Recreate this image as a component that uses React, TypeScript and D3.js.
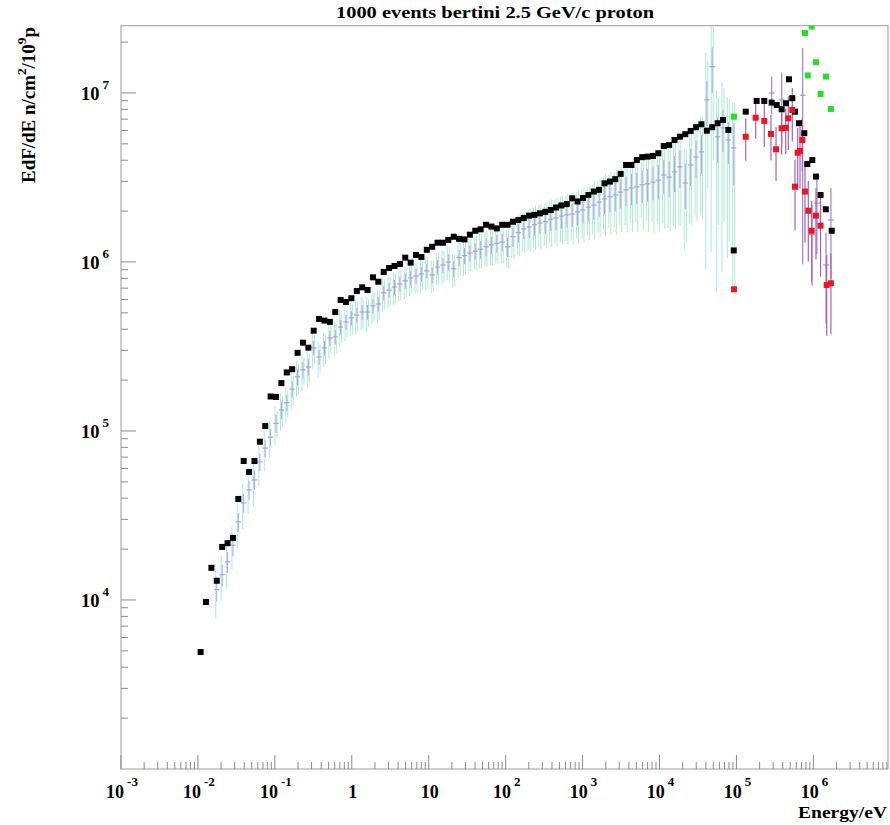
import React from 'react';
import * as d3 from 'd3';

// ---- histogram binning (main run: 100 log-uniform bins from 1e-2 to 1e5 eV)
const HIST_MIN = 1e-2;
const HIST_MAX = 1e5;
const HIST_NBINS = 100;

// ---- black squares (main histogram)
const blackFlux = [
  4.92e3, 9.73e3, 1.55e4, 1.30e4, 2.06e4, 2.17e4, 2.33e4, 3.96e4, 6.64e4, 5.72e4,
  6.64e4, 8.64e4, 1.07e5, 1.60e5, 1.59e5, 1.92e5, 2.22e5, 2.32e5, 2.90e5, 3.33e5,
  3.11e5, 3.92e5, 4.60e5, 4.50e5, 4.42e5, 5.06e5, 5.96e5, 5.80e5, 6.10e5, 6.73e5,
  7.08e5, 6.83e5, 8.11e5, 7.64e5, 8.73e5, 9.21e5, 9.47e5, 9.73e5, 1.06e6, 9.91e5,
  1.10e6, 1.07e6, 1.18e6, 1.23e6, 1.30e6, 1.30e6, 1.35e6, 1.41e6, 1.37e6, 1.36e6,
  1.45e6, 1.53e6, 1.56e6, 1.66e6, 1.62e6, 1.58e6, 1.66e6, 1.66e6, 1.73e6, 1.77e6,
  1.82e6, 1.88e6, 1.90e6, 1.94e6, 1.98e6, 2.03e6, 2.10e6, 2.16e6, 2.20e6, 2.38e6,
  2.28e6, 2.39e6, 2.49e6, 2.61e6, 2.67e6, 2.92e6, 2.99e6, 3.09e6, 3.32e6, 3.75e6,
  3.75e6, 4.01e6, 4.17e6, 4.20e6, 4.24e6, 4.40e6, 4.85e6, 4.92e6, 5.27e6, 5.51e6,
  5.70e6, 5.96e6, 6.27e6, 6.53e6, 5.98e6, 6.27e6, 6.62e6, 6.92e6, 6.04e6, 1.17e6,
];

// ---- purple crosses (histogram drawn with errors)
const purpleFlux = [
  null, null, null, 1.15e4, 1.41e4, 1.68e4, 2.11e4, 2.90e4, 3.75e4, 4.48e4,
  5.13e4, 6.56e4, 7.92e4, 9.20e4, 1.11e5, 1.33e5, 1.47e5, 1.77e5, 2.09e5, 2.30e5,
  2.39e5, 3.10e5, 2.74e5, 3.10e5, 3.55e5, 3.60e5, 4.12e5, 4.42e5, 4.67e5, 4.85e5,
  5.06e5, 5.06e5, 5.50e5, 5.64e5, 6.56e5, 6.82e5, 7.11e5, 7.41e5, 7.73e5, 8.04e5,
  8.26e5, 8.49e5, 8.85e5, 8.38e5, 9.33e5, 9.59e5, 1.00e6, 9.10e5, 1.06e6, 1.09e6,
  1.13e6, 1.16e6, 1.19e6, 1.23e6, 1.26e6, 1.29e6, 1.31e6, 1.23e6, 1.41e6, 1.49e6,
  1.57e6, 1.61e6, 1.66e6, 1.70e6, 1.73e6, 1.79e6, 1.82e6, 1.87e6, 1.90e6, 1.92e6,
  1.98e6, 2.03e6, 2.11e6, 2.17e6, 2.26e6, 2.36e6, 2.43e6, 2.49e6, 2.59e6, 2.67e6,
  2.74e6, 2.78e6, 2.86e6, 2.90e6, 2.97e6, 3.05e6, 3.27e6, 3.18e6, 3.41e6, 3.65e6,
  2.93e6, 3.75e6, 4.18e6, 4.48e6, 9.10e6, 1.43e7, 5.50e6, 6.21e6, 5.27e6, 4.73e6,
];
const purpleRelErr = [
  null, null, null, 0.15, 0.15, 0.14, 0.14, 0.13, 0.13, 0.13,
  0.13, 0.12, 0.12, 0.12, 0.12, 0.12, 0.11, 0.11, 0.11, 0.11,
  0.11, 0.10, 0.10, 0.10, 0.10, 0.10, 0.10, 0.10, 0.10, 0.10,
  0.10, 0.10, 0.10, 0.10, 0.10, 0.10, 0.10, 0.10, 0.10, 0.10,
  0.10, 0.10, 0.10, 0.11, 0.10, 0.10, 0.11, 0.11, 0.11, 0.11,
  0.11, 0.11, 0.12, 0.12, 0.12, 0.12, 0.12, 0.13, 0.13, 0.13,
  0.13, 0.14, 0.14, 0.14, 0.15, 0.15, 0.15, 0.16, 0.16, 0.16,
  0.17, 0.17, 0.18, 0.18, 0.18, 0.19, 0.19, 0.20, 0.20, 0.20,
  0.21, 0.21, 0.22, 0.22, 0.22, 0.23, 0.23, 0.24, 0.24, 0.25,
  0.30, 0.25, 0.25, 0.26, 0.30, 0.30, 0.30, 0.28, 0.28, 0.40,
];

// ---- cyan and green runs (error bars around the same bin contents)
const cyanRelErr = [
  null, null, null, 0.32, 0.30, 0.30, 0.28, 0.30, 0.30, 0.28,
  0.30, 0.28, 0.27, 0.25, 0.26, 0.25, 0.24, 0.25, 0.24, 0.25,
  0.24, 0.25, 0.24, 0.23, 0.24, 0.23, 0.24, 0.23, 0.22, 0.23,
  0.22, 0.23, 0.22, 0.22, 0.23, 0.22, 0.22, 0.21, 0.22, 0.22,
  0.22, 0.22, 0.23, 0.22, 0.22, 0.23, 0.22, 0.23, 0.24, 0.24,
  0.22, 0.22, 0.23, 0.23, 0.24, 0.24, 0.25, 0.25, 0.25, 0.26,
  0.26, 0.27, 0.27, 0.28, 0.28, 0.28, 0.29, 0.30, 0.30, 0.30,
  0.30, 0.32, 0.32, 0.33, 0.34, 0.35, 0.35, 0.36, 0.36, 0.38,
  0.38, 0.38, 0.36, 0.40, 0.42, 0.45, 0.48, 0.50, 0.52, 0.55,
  0.60, 0.55, 0.55, 0.58, 0.90, 0.92, 0.88, 0.86, 0.80, 0.85,
];
const greenRelErr = [
  null, null, null, null, null, null, null, null, null, null,
  null, null, null, null, 0.18, 0.20, 0.18, 0.20, 0.20, 0.19,
  0.20, 0.19, 0.20, 0.20, 0.19, 0.20, 0.20, 0.19, 0.20, 0.20,
  0.20, 0.19, 0.20, 0.20, 0.20, 0.19, 0.20, 0.20, 0.20, 0.20,
  0.20, 0.20, 0.21, 0.20, 0.21, 0.21, 0.22, 0.21, 0.22, 0.22,
  0.22, 0.23, 0.23, 0.24, 0.24, 0.25, 0.25, 0.26, 0.26, 0.27,
  0.28, 0.28, 0.29, 0.30, 0.30, 0.31, 0.32, 0.32, 0.33, 0.34,
  0.35, 0.36, 0.36, 0.38, 0.38, 0.40, 0.40, 0.42, 0.42, 0.44,
  0.45, 0.46, 0.46, 0.48, 0.50, 0.50, 0.52, 0.52, 0.54, 0.55,
  0.55, 0.56, 0.58, 0.60, 0.70, 0.72, 0.70, 0.72, 0.75, 0.85,
];

// ---- high-energy part (> 1e5 eV)
const hiBlackEnergy = [1.32e5, 1.83e5, 2.30e5, 2.87e5, 3.34e5, 3.87e5, 4.41e5, 4.82e5, 5.32e5, 5.77e5, 6.50e5, 7.62e5, 8.34e5, 9.68e5, 1.08e6, 1.24e6, 1.45e6, 1.73e6];
const hiBlackFlux = [7.75e6, 8.97e6, 8.97e6, 8.77e6, 8.49e6, 8.01e6, 8.69e6, 1.205e7, 9.31e6, 7.75e6, 6.62e6, 5.78e6, 3.80e6, 4.01e6, 3.20e6, 2.49e6, 2.05e6, 1.53e6];

const redEnergy = [9.3e4, 1.32e5, 1.78e5, 2.30e5, 2.81e5, 3.27e5, 3.87e5, 4.37e5, 4.72e5, 5.32e5, 5.77e5, 6.25e5, 6.70e5, 7.18e5, 7.78e5, 8.59e5, 9.51e5, 1.08e6, 1.24e6, 1.49e6, 1.69e6];
const redFlux = [6.89e5, 5.51e6, 7.14e6, 6.83e6, 5.72e6, 4.64e6, 6.18e6, 6.22e6, 7.08e6, 7.93e6, 2.79e6, 4.43e6, 4.54e6, 5.27e6, 2.61e6, 2.01e6, 1.53e6, 1.88e6, 1.64e6, 7.31e5, 7.48e5];
const redRelErr = [0, 0.28, 0.25, 0.30, 0.30, 0.35, 0.30, 0.30, 0.35, 0.35, 0.45, 0.40, 0.40, 0.35, 0.50, 0.50, 0.50, 0.45, 0.50, 0.50, 0.50];

const greenSqEnergy = [9.3e4, 7.78e5, 9.51e5, 1.08e6, 8.44e5, 1.46e6, 1.24e6, 1.69e6];
const greenSqFlux = [7.24e6, 2.26e7, 2.47e7, 1.52e7, 1.27e7, 1.25e7, 9.86e6, 8.04e6];

const purpleHiEnergy = [2.87e5, 3.87e5, 7.26e5, 9.6e5, 1.11e6, 1.46e6, 1.69e6];
const purpleHiFlux = [1.00e7, 9.1e6, 9.7e6, 1.45e6, 2.23e6, 9.6e5, 1.77e6];
const purpleHiRelErr = [0.25, 0.45, 0.9, 0.5, 0.5, 0.55, 0.55];

// ---- axes
const xLabelExps = [-3, -2, -1, 0, 1, 2, 3, 4, 5, 6];
const yLabelExps = [4, 5, 6, 7];
const TITLE = '1000 events bertini 2.5 GeV/c proton';
const X_TITLE = 'Energy/eV';

const W = 890, H = 825;
const L = 121, R = 888, T = 25.7, B = 769;
const FONT = "'Liberation Serif', 'DejaVu Serif', 'Times New Roman', serif";

export default function App() {
  const x = d3.scaleLog().domain([1e-3, Math.pow(10, 6.97)]).range([L, R]);
  const y = d3.scaleLog().domain([1e3, 2.5e7]).range([B, T]);

  const lmin = Math.log10(HIST_MIN);
  const step = (Math.log10(HIST_MAX) - lmin) / HIST_NBINS;
  const center = (i: number) => Math.pow(10, lmin + (i + 0.5) * step);
  const edgeLo = (i: number) => Math.pow(10, lmin + i * step);
  const edgeHi = (i: number) => Math.pow(10, lmin + (i + 1) * step);

  const yc = (v: number) => (v <= 1e3 ? B : y(v));

  const xMinor: number[] = [];
  for (let e = -3; e <= 6; e++) for (let m = 2; m <= 9; m++) {
    const v = m * Math.pow(10, e);
    if (x(v) <= R) xMinor.push(v);
  }
  const yMinor: number[] = [];
  for (let e = 3; e <= 7; e++) for (let m = 2; m <= 9; m++) {
    const v = m * Math.pow(10, e);
    if (v <= 2.5e7) yMinor.push(v);
  }

  const sq = 6;
  const errBar = (key: string, cx: number, v: number, rel: number, color: string, w = 1) => (
    <line key={key} x1={cx} x2={cx} y1={yc(v * (1 + rel))} y2={yc(v * (1 - rel))} stroke={color} strokeWidth={w} />
  );

  return (
    <svg width={W} height={H} style={{ position: 'absolute', left: 0, top: 0, background: '#fff' }}>
      <defs>
        <clipPath id="plot"><rect x={L} y={T} width={R - L} height={B - T} /></clipPath>
      </defs>
      <rect x={0} y={0} width={W} height={H} fill="#fff" />

      <text x={495} y={18} textAnchor="middle" fontFamily={FONT} fontWeight="bold" fontSize={16.5}
        textLength={318} lengthAdjust="spacingAndGlyphs">{TITLE}</text>

      <rect x={L} y={T} width={R - L} height={B - T} fill="none" stroke="#9a9a9a" strokeWidth={1} />

      <g clipPath="url(#plot)">
        {purpleFlux.map((v, i) => (v == null || cyanRelErr[i] == null) ? null :
          errBar('c' + i, x(center(i)) - 1, v, cyanRelErr[i] as number, '#a4eaf0', 1))}
        {purpleFlux.map((v, i) => (v == null || greenRelErr[i] == null) ? null :
          errBar('g' + i, x(center(i)) + 1, v, greenRelErr[i] as number, '#b4ecb0', 1))}
        {purpleFlux.map((v, i) => v == null ? null : (
          <g key={'p' + i}>
            {errBar('pv' + i, x(center(i)), v, purpleRelErr[i] as number, '#b3a0e6', 1)}
            <line x1={x(edgeLo(i))} x2={x(edgeHi(i))} y1={y(v)} y2={y(v)} stroke="#a792e0" strokeWidth={1} />
          </g>
        ))}
        {purpleHiFlux.map((v, i) => (
          <g key={'ph' + i}>
            {errBar('phv' + i, x(purpleHiEnergy[i]), v, purpleHiRelErr[i], '#9c80da', 1.2)}
            <line x1={x(purpleHiEnergy[i]) - 3} x2={x(purpleHiEnergy[i]) + 3} y1={y(v)} y2={y(v)} stroke="#9c80da" strokeWidth={1} />
          </g>
        ))}
        {redFlux.map((v, i) => redRelErr[i] > 0 ?
          errBar('re' + i, x(redEnergy[i]), v, redRelErr[i], '#a860b4', 1.2) : null)}

        {blackFlux.map((v, i) => (
          <rect key={'b' + i} x={x(center(i)) - sq / 2} y={y(v) - sq / 2} width={sq} height={sq} fill="#000" />
        ))}
        {hiBlackFlux.map((v, i) => (
          <rect key={'bh' + i} x={x(hiBlackEnergy[i]) - sq / 2} y={y(v) - sq / 2} width={sq} height={sq} fill="#000" />
        ))}
        {redFlux.map((v, i) => (
          <rect key={'r' + i} x={x(redEnergy[i]) - sq / 2} y={y(v) - sq / 2} width={sq} height={sq} fill="#f0141e" />
        ))}
        {greenSqFlux.map((v, i) => (
          <rect key={'gs' + i} x={x(greenSqEnergy[i]) - sq / 2} y={y(v) - sq / 2} width={sq} height={sq} fill="#22e022" />
        ))}
      </g>

      <g stroke="#8a8a8a" strokeWidth={1}>
        {xLabelExps.map(e => <line key={'xm' + e} x1={x(Math.pow(10, e))} x2={x(Math.pow(10, e))} y1={B} y2={B - 14} />)}
        {xMinor.map((v, i) => <line key={'xn' + i} x1={x(v)} x2={x(v)} y1={B} y2={B - 7} />)}
        {yLabelExps.map(e => <line key={'ym' + e} x1={L} x2={L + 15} y1={y(Math.pow(10, e))} y2={y(Math.pow(10, e))} />)}
        {yMinor.map((v, i) => <line key={'yn' + i} x1={L} x2={L + 7} y1={y(v)} y2={y(v)} />)}
      </g>

      {xLabelExps.map(e => (
        <text key={'xl' + e} x={x(Math.pow(10, e)) + 1} y={798} textAnchor="middle" fontFamily={FONT} fontWeight="bold" fontSize={18}>
          {e === 0 ? '1' : e === 1 ? '10' : (
            <>10<tspan dx={3} dy={-12} fontSize={13}>{e}</tspan></>
          )}
        </text>
      ))}
      {yLabelExps.map(e => (
        <text key={'yl' + e} x={109} y={y(Math.pow(10, e)) + 7} textAnchor="end" fontFamily={FONT} fontWeight="bold" fontSize={18.5}>
          10<tspan dx={3} dy={-11} fontSize={13}>{e}</tspan>
        </text>
      ))}

      <text x={887} y={818} textAnchor="end" fontFamily={FONT} fontWeight="bold" fontSize={16.5}
        textLength={89} lengthAdjust="spacingAndGlyphs">{X_TITLE}</text>
      <text transform="translate(35,27) rotate(-90)" textAnchor="end" fontFamily={FONT} fontWeight="bold" fontSize={18.5}
        textLength={156} lengthAdjust="spacingAndGlyphs">
        EdF/dE n/cm<tspan dy={-9} fontSize={13}>2</tspan><tspan dy={9}>/10</tspan><tspan dy={-9} fontSize={13}>9</tspan><tspan dy={9}>p</tspan>
      </text>
    </svg>
  );
}
